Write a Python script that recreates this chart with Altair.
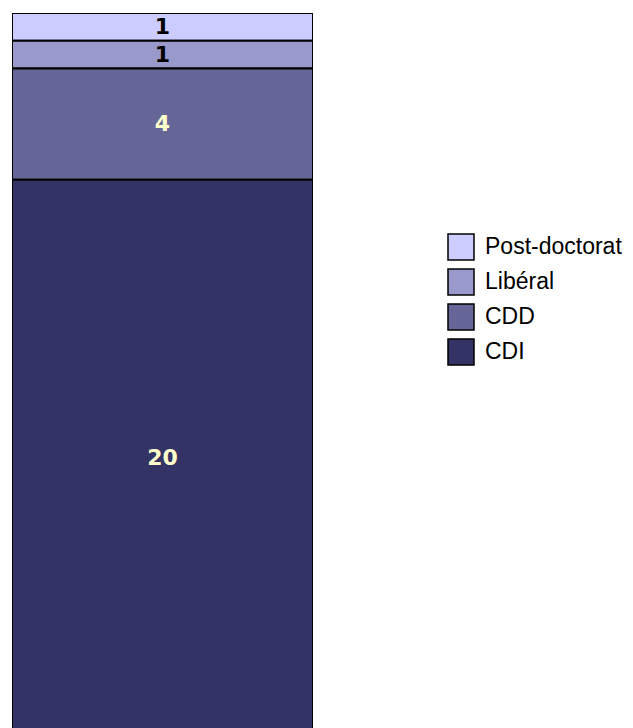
import altair as alt
import pandas as pd

categories = ["Post-doctorat", "Libéral", "CDD", "CDI"]
values = [1, 1, 4, 20]
colors = ["#CCCCFF", "#9999CC", "#666699", "#333366"]
stack_rank = [4, 3, 2, 1]  # CDI at the bottom

df = pd.DataFrame({
    "grp": ["all"] * len(categories),
    "cat": categories,
    "value": values,
    "rank": stack_rank,
})

base = alt.Chart(df).transform_stack(
    stack="value",
    groupby=["grp"],
    as_=["y0", "y1"],
    sort=[alt.SortField("rank", order="ascending")],
).transform_calculate(mid="(datum.y0 + datum.y1) / 2")

yscale = alt.Scale(domain=[0.28, 26], nice=False, zero=False)
xenc = alt.X("grp:N", axis=None, scale=alt.Scale(paddingInner=0, paddingOuter=0))

bars = base.mark_bar(stroke="black", strokeWidth=2, clip=True).encode(
    x=xenc,
    y=alt.Y("y0:Q", scale=yscale, axis=None),
    y2="y1:Q",
    color=alt.Color(
        "cat:N",
        scale=alt.Scale(domain=categories, range=colors),
        legend=alt.Legend(
            title=None,
            orient="none",
            legendX=435,
            legendY=220,
            symbolType="square",
            symbolSize=676,
            symbolStrokeColor="black",
            symbolStrokeWidth=1.5,
            symbolOpacity=1,
            labelFont="Liberation Sans",
            labelFontSize=23,
            labelColor="black",
            labelOffset=10,
            labelLimit=300,
            rowPadding=3,
            padding=0,
        ),
    ),
)

labels = base.mark_text(
    font="DejaVu Sans", fontWeight="bold", fontSize=22, baseline="middle", align="center"
).encode(
    x=xenc,
    y=alt.Y("mid:Q", scale=yscale, axis=None),
    text="value:Q",
    color=alt.condition("datum.value >= 4", alt.value("#FFFFCC"), alt.value("black")),
)

chart = (
    alt.layer(bars, labels)
    .properties(
        width=301,
        height=715,
        padding={"left": 4, "top": 5, "right": 310, "bottom": 0},
        autosize=alt.AutoSizeParams(type="none"),
        background="white",
    )
    .configure_view(stroke=None)
)

chart.save("out.html", embed_options={"renderer": "svg", "actions": False})
